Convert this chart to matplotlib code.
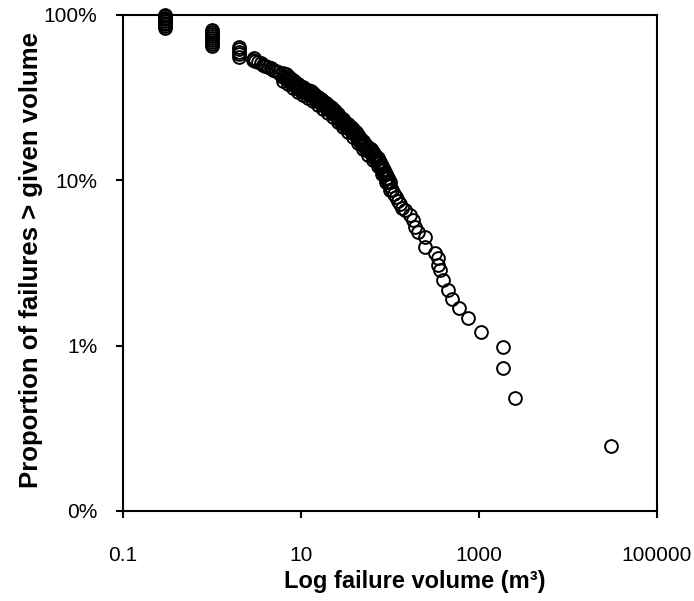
import matplotlib
matplotlib.use("Agg")
import matplotlib.pyplot as plt
from matplotlib.ticker import FixedLocator, NullLocator

plt.rcParams['font.family'] = ['Liberation Sans', 'DejaVu Sans']

# Failure volume (m3) and proportion of failures exceeding that volume
volume = [
    # tied small volumes (vertical stacks)
    0.3, 0.3, 0.3, 0.3, 0.3, 0.3, 0.3, 0.3, 0.3,
    1, 1, 1, 1, 1, 1, 1, 1, 1,
    2, 2, 2, 2, 2,
    # dense main band
    2.89, 3.0, 3.08, 3.29, 3.51, 3.74, 3.99, 4.26, 4.55, 4.85, 5.17, 5.51, 5.88,
    6.28, 6.70, 7.14, 7.62, 8.13, 8.67, 9.25, 9.86, 10.5, 11.2, 12.0, 12.8,
    13.6, 14.5, 15.5, 16.6, 17.7, 18.9, 20.1, 21.5, 22.9, 24.4, 26.0, 27.7,
    29.6, 31.6, 33.7, 36.0, 38.4, 41.0, 43.7, 46.6, 49.7, 53.0, 56.6, 60.4,
    64.4, 68.7, 73.3, 77.2, 81.3, 85.6, 90.2, 95, 100, 105.3, 110.9, 116.8,
    123, 129.5, 136.4,
    # upper edge of the band
    6.28, 6.70, 7.14, 7.62, 8.13, 8.67, 9.25, 9.86, 10.5, 11.2, 12.0, 12.8,
    13.6, 14.5, 15.5, 16.6, 17.7, 18.9, 20.1, 21.5, 22.9, 24.4, 26.0, 27.7,
    29.6, 31.6, 33.7, 36.0, 38.4, 41.0, 43.7, 46.6, 49.7, 53.0, 56.6, 60.4,
    64.4, 68.7, 73.3, 77.2, 81.3, 85.6, 90.2, 95, 100,
    # lower edge of the band
    6.28, 7.14, 8.13, 9.25, 10.5, 12.0, 13.6, 15.5, 17.7, 20.1, 22.9, 26.0,
    29.6, 33.7, 38.4, 43.7, 49.7, 56.6, 64.4, 73.3, 81.3, 90.2, 100,
    # sparse tail
    147.4, 167.8, 181.3, 190.9, 206.4, 247.4, 247, 320.3, 346.2, 346,
    364.6, 394, 448.4, 497.3, 596, 752, 1053, 1861, 1861, 2538, 30420,
]
proportion = [
    1.00, 0.98, 0.96, 0.94, 0.92, 0.90, 0.88, 0.86, 0.84,
    0.81, 0.79, 0.77, 0.75, 0.73, 0.71, 0.69, 0.67, 0.65,
    0.64, 0.62, 0.60, 0.58, 0.56,
    0.534, 0.55, 0.527, 0.520, 0.509, 0.498, 0.491, 0.485, 0.475, 0.465, 0.458, 0.452, 0.437,
    0.422, 0.413, 0.405, 0.394, 0.383, 0.372, 0.362, 0.354, 0.347, 0.340, 0.333, 0.326,
    0.319, 0.310, 0.302, 0.294, 0.286, 0.278, 0.270, 0.263, 0.256, 0.247, 0.238, 0.230,
    0.222, 0.214, 0.207, 0.200, 0.193, 0.185, 0.178, 0.171, 0.164, 0.157, 0.1506, 0.1454,
    0.1404, 0.1347, 0.1292, 0.1222, 0.1156, 0.1093, 0.1034, 0.0978, 0.0925, 0.0875, 0.0828, 0.0789,
    0.0751, 0.0715, 0.0681,
    0.446, 0.437, 0.428, 0.416, 0.405, 0.393, 0.383, 0.374, 0.367, 0.359, 0.352, 0.345,
    0.337, 0.328, 0.319, 0.311, 0.302, 0.294, 0.285, 0.278, 0.271, 0.261, 0.252, 0.243,
    0.235, 0.226, 0.219, 0.211, 0.204, 0.196, 0.188, 0.181, 0.173, 0.166, 0.159, 0.1537,
    0.148, 0.1424, 0.1366, 0.1292, 0.122, 0.1155, 0.109, 0.1034, 0.0978,
    0.399, 0.383, 0.362, 0.342, 0.328, 0.315, 0.302, 0.286, 0.271, 0.255, 0.242, 0.225,
    0.210, 0.196, 0.183, 0.168, 0.155, 0.1425, 0.1328, 0.1222, 0.1094, 0.0978, 0.0875,
    0.0662, 0.0618, 0.0576, 0.0523, 0.0488, 0.0455, 0.0396, 0.0364, 0.0340, 0.0308,
    0.0287, 0.0250, 0.02175, 0.01919, 0.01693, 0.01473, 0.01212, 0.00983, 0.00734, 0.00484, 0.00248,
]

x_ticks = [0.1, 10, 1000, 100000]
x_tick_labels = ["0.1", "10", "1000", "100000"]
y_ticks = [0.001, 0.01, 0.1, 1.0]
y_tick_labels = ["0%", "1%", "10%", "100%"]

fig = plt.figure(figsize=(6.94, 6.01), dpi=100)
ax = fig.add_axes([123/694, 1-511/601, (657-123)/694, (511-15)/601])

ax.plot(volume, proportion, linestyle='none', marker='o', markersize=9.2,
        markerfacecolor='none', markeredgecolor='black', markeredgewidth=1.4,
        clip_on=False)

ax.set_xscale('log')
ax.set_yscale('log')
ax.set_xlim(0.1, 100000)
ax.set_ylim(0.001, 1.0)

ax.xaxis.set_major_locator(FixedLocator(x_ticks))
ax.xaxis.set_minor_locator(NullLocator())
ax.yaxis.set_major_locator(FixedLocator(y_ticks))
ax.yaxis.set_minor_locator(NullLocator())
ax.set_xticklabels(x_tick_labels)
ax.set_yticklabels(y_tick_labels)

for s in ax.spines.values():
    s.set_linewidth(1.5)
ax.tick_params(direction='out', length=5, width=1.5, labelsize=15)
ax.tick_params(axis='y', pad=13.5)
ax.tick_params(axis='x', pad=20)

ax.set_xlabel("Log failure volume (m³)", fontsize=17, fontweight='bold')
ax.xaxis.set_label_coords(0.547, -0.143, transform=ax.transAxes)
ax.xaxis.label.set_va('center')
ax.set_ylabel("Proportion of failures > given volume", fontsize=18.5, fontweight='bold')
ax.yaxis.set_label_coords(-0.172, 0.507, transform=ax.transAxes)
ax.yaxis.label.set_va('center')

fig.savefig("out.png", dpi=100)
